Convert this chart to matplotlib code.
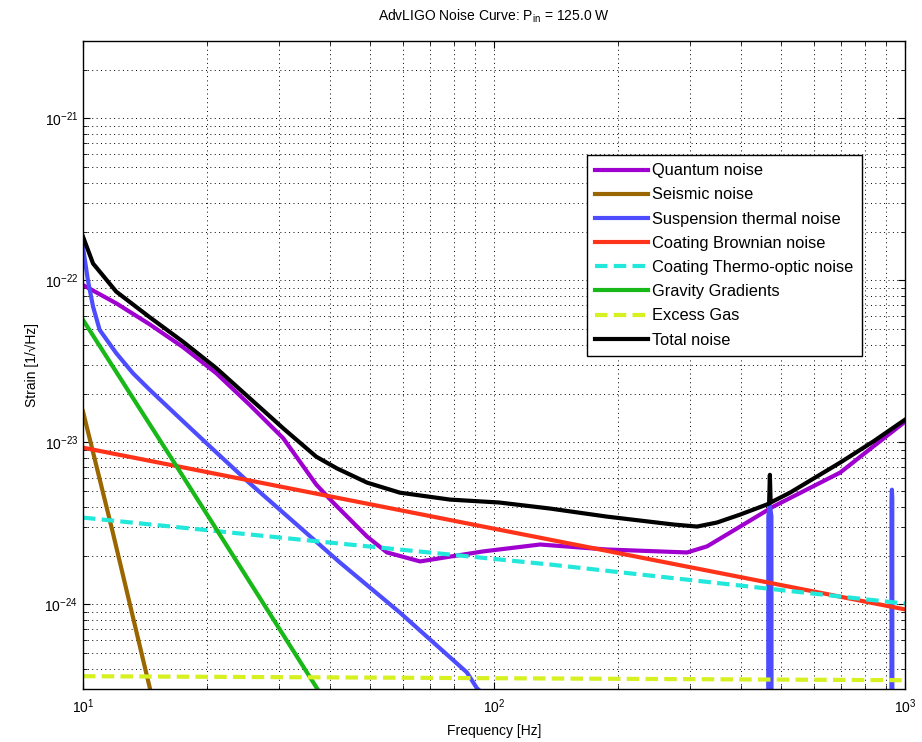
import numpy as np
import matplotlib
matplotlib.use("Agg")
import matplotlib.pyplot as plt
from matplotlib.ticker import LogLocator, NullFormatter

plt.rcParams['font.family'] = ['Liberation Sans', 'DejaVu Sans']
plt.rcParams['mathtext.fontset'] = 'custom'
plt.rcParams['mathtext.rm'] = 'Liberation Sans'

# --- dane ---
f_quantum = [10, 12.05, 14.53, 17.51, 21.1, 25.4, 30.7, 36.95, 40.6, 49.1, 54.9, 66.1, 78.2, 94.0,
             129.4, 188, 295, 330, 397, 478, 695, 836, 1000]
h_quantum = [9.35e-23, 7.21e-23, 5.35e-23, 3.87e-23, 2.67e-23, 1.71e-23, 1.06e-23, 5.48e-24, 4.25e-24,
             2.62e-24, 2.09e-24, 1.84e-24, 1.97e-24, 2.12e-24, 2.34e-24, 2.18e-24, 2.09e-24, 2.28e-24,
             3.02e-24, 4.01e-24, 6.5e-24, 9.4e-24, 1.34e-23]

f_seismic = [10, 11.77, 14.56, 16]
h_seismic = [1.55e-23, 2.9e-24, 3.0e-25, 1.1e-25]

f_susp = [10, 10.28, 10.58, 10.98, 12.05, 13.23, 14.53, 17.51, 21.1, 25.4, 42.2, 59.0, 85.9, 90.9, 200,
          464, 465, 469, 473, 474, 926, 927, 929, 931, 932, 1000]
h_susp = [1.6e-22, 1.0e-22, 6.88e-23, 4.94e-23, 3.55e-23, 2.67e-23, 2.11e-23, 1.35e-23, 8.67e-24, 5.61e-24,
          1.81e-24, 8.9e-25, 3.8e-25, 3.03e-25, 5.5e-26,
          1e-27, 3.5e-24, 4.1e-24, 3.5e-24, 1e-27, 1e-27, 4.5e-24, 5.1e-24, 4.5e-24, 1e-27, 1e-27]

f_cbrown = [10, 100, 1000]
h_cbrown = [9.27e-24, 2.93e-24, 9.3e-25]

f_cto = [10, 33.7, 137, 478, 1000]
h_cto = [3.43e-24, 2.51e-24, 1.76e-24, 1.24e-24, 1.01e-24]

f_grav = [10, 16.9, 37.1, 45]
h_grav = [5.7e-23, 7.1e-24, 3.03e-25, 1.4e-25]

f_gas = [10, 1000]
h_gas = [3.6e-25, 3.4e-25]

f_total = [10, 10.58, 12.05, 14.53, 17.51, 21.1, 25.4, 30.7, 36.95, 41.5, 49.1, 59.0, 78.2, 103, 137, 188,
           273, 312, 349, 397, 461, 467, 469, 471, 525, 695, 836, 1000]
h_total = [1.86e-22, 1.27e-22, 8.51e-23, 5.92e-23, 4.18e-23, 2.87e-23, 1.88e-23, 1.22e-23, 8.15e-24, 6.9e-24,
           5.64e-24, 4.89e-24, 4.43e-24, 4.25e-24, 3.90e-24, 3.48e-24, 3.11e-24, 3.02e-24, 3.20e-24, 3.58e-24,
           4.13e-24, 4.2e-24, 6.3e-24, 4.25e-24, 4.89e-24, 7.49e-24, 1.01e-23, 1.38e-23]

fig = plt.figure(figsize=(9.22, 7.42), dpi=100)
ax = fig.add_axes([0.090, 0.0714, 0.8916, 0.8733])

lw = 3
ax.plot(f_quantum, h_quantum, color="#9F00D0", lw=lw, label="Quantum noise")
ax.plot(f_seismic, h_seismic, color="#996600", lw=lw, label="Seismic noise")
ax.plot(f_susp, h_susp, color="#4D4DFF", lw=lw, label="Suspension thermal noise")
ax.plot(f_cbrown, h_cbrown, color="#FF3319", lw=lw, label="Coating Brownian noise")
ax.plot(f_cto, h_cto, color="#22E8DC", lw=lw, dashes=(3, 1.5), label="Coating Thermo-optic noise")
ax.plot(f_grav, h_grav, color="#18B818", lw=lw, label="Gravity Gradients")
ax.plot(f_gas, h_gas, color="#D6F020", lw=lw, dashes=(3, 1.5), label="Excess Gas")
ax.plot(f_total, h_total, color="black", lw=lw, label="Total noise")

ax.set_xscale("log")
ax.set_yscale("log")
ax.set_xlim(10, 1000)
ax.set_ylim(3e-25, 3e-21)
ax.set_xticks([10, 100, 1000])
ax.set_yticks([1e-24, 1e-23, 1e-22, 1e-21])

ax.xaxis.set_minor_locator(LogLocator(base=10, subs=np.arange(2, 10)))
ax.yaxis.set_minor_locator(LogLocator(base=10, subs=np.arange(2, 10)))
ax.xaxis.set_minor_formatter(NullFormatter())
ax.yaxis.set_minor_formatter(NullFormatter())
ax.tick_params(which="both", direction="in", top=True, right=True, labelsize=10)
ax.tick_params(which="major", length=5)
ax.tick_params(which="minor", length=3)
ax.tick_params(axis="x", pad=6)
ax.grid(True, which="both", color="black", linestyle=(0, (1, 3.5)), linewidth=0.7)

for s in ax.spines.values():
    s.set_linewidth(1)

ax.set_title("AdvLIGO Noise Curve: P$_{\\rm in}$ = 125.0 W", fontsize=10, pad=15)
ax.set_xlabel("Frequency [Hz]", fontsize=10, labelpad=6)
ax.set_ylabel("Strain [1/\u221aHz]", fontsize=10)

leg = ax.legend(loc="upper left", bbox_to_anchor=(0.613, 0.824), borderaxespad=0, fontsize=11.8,
                handlelength=3.2, labelspacing=0.56, borderpad=0.5, handletextpad=0.3,
                fancybox=False, framealpha=1)
leg.get_frame().set_edgecolor("black")
leg.get_frame().set_linewidth(1)

fig.savefig("out.png", dpi=100)
